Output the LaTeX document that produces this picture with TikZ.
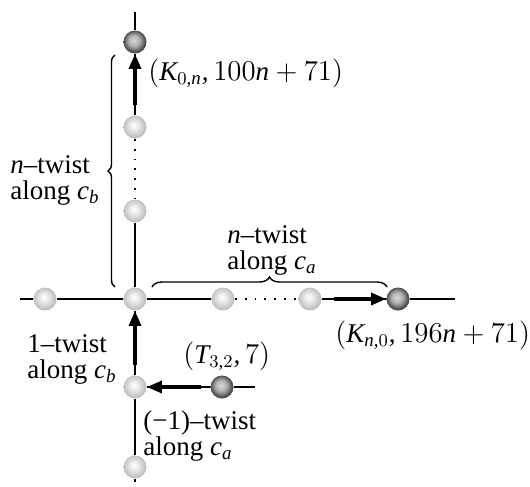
\documentclass[tikz,border=0pt]{standalone}
\usepackage{fontspec}
\setmainfont{Liberation Serif}
\newfontfamily\libserif{Liberation Serif}[NFSSFamily=libserif]
\DeclareSymbolFont{letters}{TU}{libserif}{m}{it}
\DeclareSymbolFont{operators}{TU}{libserif}{m}{n}
\mathcode`\,="612C
\usetikzlibrary{arrows.meta, decorations.pathreplacing}

\pgfdeclareradialshading{lightball}{\pgfpoint{-3bp}{4bp}}{color(0bp)=(white); color(10bp)=(gray!18); color(25bp)=(gray!52); color(50bp)=(gray!52)}
\pgfdeclareradialshading{darkball}{\pgfpoint{-3bp}{4bp}}{color(0bp)=(gray!30); color(12bp)=(gray!62); color(25bp)=(black!75); color(50bp)=(black!75)}

\begin{document}
\begin{tikzpicture}[
    x=0.5pt, y=-0.5pt,
    ball/.style={circle, inner sep=0pt, minimum size=11.5pt},
    lball/.style={ball, shading=lightball},
    dball/.style={ball, shading=darkball},
    axis/.style={line width=0.6pt},
    dots/.style={line width=0.9pt, dash pattern=on 0.9pt off 4pt},
    arrow/.style={line width=1.6pt, -{Triangle[length=7.5pt, width=6pt]}},
    lbl/.style={inner sep=0pt, font=\fontsize{13.5}{13}\selectfont},
    brc/.style={decorate, decoration={brace, amplitude=#1}, line width=0.7pt}
]
\useasboundingbox (0,0) rectangle (530,487);

% ends of the axes
\coordinate (vtop) at (135,12);
\coordinate (vbot) at (135,482);
\coordinate (hleft) at (20,299);
\coordinate (hright) at (455,299);
\coordinate (lright) at (255,387);

% balls
\node[dball] (k0n) at (135,42) {};
\node[lball] (v2) at (135,127) {};
\node[lball] (v1) at (135,211) {};
\node[lball] (orig) at (135,299) {};
\node[lball] (west) at (45,299) {};
\node[lball] (h1) at (223,299) {};
\node[lball] (h2) at (310,299) {};
\node[dball] (kn0) at (398,299) {};
\node[lball] (low) at (135,387) {};
\node[dball] (t32) at (222,387) {};
\node[lball] (bot) at (135,467) {};

% axes
\draw[axis] (vtop) -- (k0n) -- (v2);
\draw[dots] (v2) -- (v1);
\draw[axis] (v1) -- (orig) -- (low) -- (bot) -- (vbot);
\draw[axis] (hleft) -- (west) -- (orig) -- (h1);
\draw[dots] (h1) -- (h2);
\draw[axis] (h2) -- (kn0) -- (hright);
\draw[axis] (low) -- (t32) -- (lright);

% twists
\draw[arrow, shorten <=5pt] (v2) -- (k0n);
\draw[arrow, shorten <=6pt] (h2) -- (kn0);
\draw[arrow, shorten <=5pt] (low) -- (orig);
\draw[arrow, shorten <=4.5pt] (t32) -- (low);

% braces
\coordinate (lb1) at (115,287);
\coordinate (lb2) at (115,55);
\coordinate (tb1) at (152,287);
\coordinate (tb2) at (387,287);
\draw[brc=3.5pt] (lb1) -- (lb2);
\draw[brc=5pt] (tb1) -- (tb2);

% labels
\node[lbl, anchor=base west] (k0nlab) at (148,80) {$(K_{0,n}, 100n+71)$};
\node[lbl, align=left, anchor=west] (twb) at (10,180) {$n$–twist\\along $c_b$};
\node[lbl, align=left, anchor=west] (twa) at (227,250) {$n$–twist\\along $c_a$};
\node[lbl, anchor=base west] (kn0lab) at (335,342) {$(K_{n,0}, 196n+71)$};
\node[lbl, align=left, anchor=west] (tw1) at (27,359) {1–twist\\along $c_b$};
\node[lbl, anchor=base west] (t32lab) at (183,363) {$(T_{3,2}, 7)$};
\node[lbl, align=left, anchor=west] (twm) at (143,436) {(−1)–twist\\along $c_a$};
\end{tikzpicture}
\end{document}
